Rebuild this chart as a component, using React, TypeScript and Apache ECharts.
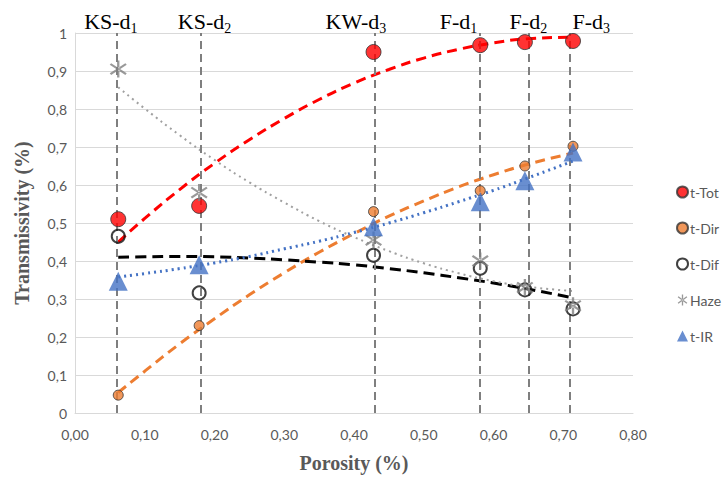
import React, { useEffect, useRef } from "react";
import * as echarts from "echarts";

// Samples
const labelMain = ["KS-d", "KS-d", "KW-d", "F-d", "F-d", "F-d"];
const labelSub = ["1", "2", "3", "1", "2", "3"];
const porosity = [0.062, 0.178, 0.428, 0.581, 0.645, 0.714];

// Measured values
const tTot = [0.51, 0.545, 0.95, 0.968, 0.976, 0.979];
const tDir = [0.047, 0.23, 0.53, 0.585, 0.65, 0.702];
const tDif = [0.465, 0.316, 0.415, 0.381, 0.324, 0.274];
const haze = [0.905, 0.58, 0.455, 0.4, 0.33, 0.282];
const tIR = [0.347, 0.39, 0.49, 0.556, 0.611, 0.687];

// Trend lines
const trendX = [0.062, 0.1, 0.15, 0.2, 0.25, 0.3, 0.35, 0.4, 0.45, 0.5, 0.55, 0.6, 0.65, 0.714];
const trendTot = [0.45, 0.512, 0.588, 0.657, 0.719, 0.775, 0.825, 0.868, 0.904, 0.934, 0.957, 0.974, 0.985, 0.989];
const trendDir = [0.054, 0.11, 0.182, 0.248, 0.311, 0.369, 0.423, 0.472, 0.518, 0.558, 0.595, 0.627, 0.655, 0.684];
const trendDif = [0.41, 0.411, 0.412, 0.411, 0.408, 0.403, 0.397, 0.39, 0.38, 0.369, 0.356, 0.342, 0.326, 0.303];
const trendHaze = [0.857, 0.801, 0.731, 0.666, 0.607, 0.554, 0.505, 0.463, 0.426, 0.394, 0.368, 0.347, 0.332, 0.321];
const trendIR = [0.358, 0.367, 0.38, 0.395, 0.412, 0.432, 0.452, 0.475, 0.5, 0.527, 0.556, 0.586, 0.619, 0.663];

// Axis ticks
const xMin = 0;
const xMax = 0.8;
const xStep = 0.1;
const yMin = 0;
const yMax = 1;
const yStep = 0.1;

const labelOffsets = [-6, 4, -19, -21, 0, 21];

const pair = (xs: number[], ys: number[]) => xs.map((x, i) => [x, ys[i]]);

const asterisk =
  "path://M44,0L56,0L56,100L44,100Z M6.4,25L86.4,85L93.6,75L13.6,15Z M13.6,85L93.6,25L86.4,15L6.4,75Z";

const FONT = "Lato";
const GREY = "#595959";

export default function App() {
  const ref = useRef<HTMLDivElement>(null);
  useEffect(() => {
    if (!ref.current) return;
    const chart = echarts.init(ref.current, undefined, { renderer: "svg" });
    const trend = (name: string, ys: number[], color: string, type: any, width: number) => ({
      name,
      type: "line",
      data: pair(trendX, ys),
      smooth: true,
      symbol: "none",
      silent: true,
      lineStyle: { color, type, width },
      z: 3,
    });
    chart.setOption({
      animation: false,
      grid: { left: 75, right: 94, top: 33, bottom: 62 },
      legend: {
        orient: "vertical",
        left: 671,
        top: 180,
        padding: 5,
        itemWidth: 11,
        itemHeight: 11,
        itemGap: 22,
        data: ["t-Tot", "t-Dir", "t-Dif", "Haze", "t-IR"],
        textStyle: { color: GREY, fontFamily: FONT, fontSize: 14, padding: [0, 0, 0, -3] },
      },
      xAxis: {
        type: "value",
        min: xMin,
        max: xMax,
        interval: xStep,
        name: "Porosity (%)",
        nameLocation: "middle",
        nameGap: 40,
        nameTextStyle: { color: GREY, fontFamily: "Liberation Serif", fontWeight: "bold", fontSize: 20 },
        axisLine: { lineStyle: { color: "#d9d9d9" } },
        axisTick: { show: false },
        splitLine: { show: false },
        axisLabel: {
          color: GREY,
          fontFamily: FONT,
          fontSize: 14,
          margin: 14,
          formatter: (v: number) => v.toFixed(2).replace(".", ","),
        },
      },
      yAxis: {
        type: "value",
        min: yMin,
        max: yMax,
        interval: yStep,
        name: "Transmissivity (%)",
        nameLocation: "middle",
        nameGap: 43,
        nameTextStyle: { color: GREY, fontFamily: "Liberation Serif", fontWeight: "bold", fontSize: 20 },
        axisLine: { show: true, lineStyle: { color: "#d9d9d9" } },
        axisTick: { show: false },
        splitLine: { lineStyle: { color: "#d9d9d9" } },
        axisLabel: {
          color: GREY,
          fontFamily: FONT,
          fontSize: 14,
          margin: 8,
          formatter: (v: number) =>
            v === 0 ? "0" : v === 1 ? "1" : v.toFixed(1).replace(".", ","),
        },
      },
      series: [
        {
          name: "samples",
          type: "line",
          data: [],
          silent: true,
          z: 1,
          markLine: {
            silent: true,
            symbol: ["none", "none"],
            animation: false,
            lineStyle: { color: "#7f7f7f", type: [8, 5], width: 2 },
            label: {
              position: "end",
              distance: 1,
              color: "#000",
              rich: {
                m: { fontFamily: "Liberation Serif", fontSize: 22, color: "#000" },
                s: { fontFamily: "Liberation Serif", fontSize: 14, color: "#000", verticalAlign: "bottom", padding: [0, 0, -3, 0] },
              },
            },
            data: porosity.map((x, i) => ({
              xAxis: x,
              label: {
                formatter: `{m|${labelMain[i]}}{s|${labelSub[i]}}`,
                offset: [labelOffsets[i], 0],
              },
            })),
          },
        },
        trend("trendTot", trendTot, "#ff0000", [10, 6], 3),
        trend("trendDir", trendDir, "#ed7d31", [10, 6], 3),
        trend("trendDif", trendDif, "#000000", [11, 6], 3),
        trend("trendHaze", trendHaze, "#a0a0a0", [2, 4], 2),
        trend("trendIR", trendIR, "#4472c4", [2, 4], 3),
        {
          name: "t-Tot",
          type: "scatter",
          data: pair(porosity, tTot),
          symbol: "circle",
          symbolSize: 15,
          itemStyle: { color: "#ff0000", borderColor: "#333", borderWidth: 1 },
          z: 5,
        },
        {
          name: "t-Dir",
          type: "scatter",
          data: pair(porosity, tDir),
          symbol: "circle",
          symbolSize: 10,
          itemStyle: { color: "#ed7d31", borderColor: "#333", borderWidth: 1 },
          z: 5,
        },
        {
          name: "t-Dif",
          type: "scatter",
          data: pair(porosity, tDif),
          symbol: "circle",
          symbolSize: 13,
          itemStyle: { color: "rgba(255,255,255,0)", borderColor: "#111", borderWidth: 2 },
          z: 5,
        },
        {
          name: "Haze",
          type: "scatter",
          data: pair(porosity, haze),
          symbol: asterisk,
          symbolSize: 17,
          itemStyle: { color: "#808080" },
          z: 5,
        },
        {
          name: "t-IR",
          type: "scatter",
          data: pair(porosity, tIR),
          symbol: "triangle",
          symbolSize: 19,
          itemStyle: { color: "#4472c4" },
          z: 5,
        },
      ],
    });
    return () => chart.dispose();
  }, []);
  return (
    <div
      ref={ref}
      style={{ position: "fixed", left: 0, top: 0, width: 727, height: 478, background: "#fff" }}
    />
  );
}
